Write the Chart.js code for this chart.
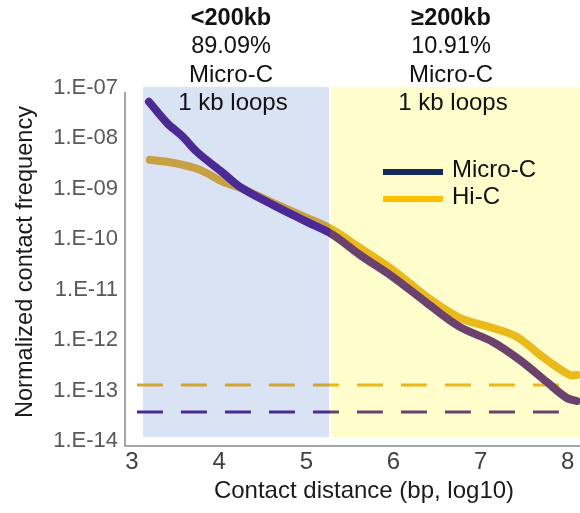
<!DOCTYPE html>
<html><head><meta charset="utf-8">
<script src="https://cdn.jsdelivr.net/npm/chart.js@4.4.1/dist/chart.umd.min.js"></script>
<style>html,body{margin:0;padding:0;background:#fff;}#wrap{width:580px;height:513px;position:relative;}</style>
</head><body><div id="wrap"><canvas id="c"></canvas></div>
<script>
// ---- data (x = contact distance, log10 bp; y = normalized contact frequency) ----
const distanceMicroC = [3.195, 3.401, 3.585, 3.745, 4.044, 4.239, 4.617, 5.007, 5.305, 5.615, 5.993, 6.383, 6.761, 7.140, 7.450, 7.759, 7.989, 8.103];
const freqMicroC     = [6.7e-8, 2.56e-8, 1.35e-8, 6.8e-9, 2.61e-9, 1.38e-9, 6.05e-10, 2.78e-10, 1.54e-10, 6.17e-11, 2.25e-11, 6.87e-12, 2.30e-12, 1.16e-12, 5.08e-13, 1.86e-13, 8.95e-14, 7.8e-14];
const distanceHiC    = [3.206, 3.470, 3.780, 4.044, 4.239, 4.617, 5.007, 5.305, 5.615, 5.993, 6.383, 6.761, 7.140, 7.415, 7.713, 8.023, 8.103];
const freqHiC        = [4.73e-9, 4.12e-9, 2.99e-9, 1.73e-9, 1.32e-9, 6.62e-10, 3.34e-10, 1.93e-10, 8.49e-11, 3.10e-11, 9.04e-12, 3.47e-12, 2.19e-12, 1.46e-12, 5.83e-13, 2.56e-13, 2.56e-13];
const thresholdX     = [3.057, 7.98];
const thresholdHiC   = 1.62e-13;
const thresholdMicroC = 4.7e-14;
const boundary       = 5.272;           // ~200 kb split
const regionStart    = [3.127, 5.285];
const regionEnd      = [5.262, 8.16];
const shadeTop = 1.32e-7, shadeBottom = 1.5e-14;
const xTicks = [3, 4, 5, 6, 7, 8];
const yTickValues = [1e-14, 1e-13, 1e-12, 1e-11, 1e-10, 1e-9, 1e-8, 1e-7];
const yTickLabels = ['1.E-14', '1.E-13', '1.E-12', '1.E-11', '1.E-10', '1.E-09', '1.E-08', '1.E-07'];
const regionTitles = ['<200kb', '≥200kb'];
const regionPercents = ['89.09%', '10.91%'];
const regionSub1 = ['Micro-C', 'Micro-C'];
const regionSub2 = ['1 kb loops', '1 kb loops'];
const seriesNames = ['Micro-C', 'Hi-C'];
const xTitle = 'Contact distance (bp, log10)';
const yTitle = 'Normalized contact frequency';

const FONT = '"Liberation Sans", Arial, Helvetica, sans-serif';
const regionFill = ['#dae3f3', '#fffdcc'];
const legendColors = ['#15295b', '#ffc000'];

function splitColor(left, right) {
  return (c) => {
    const chart = c.chart, area = chart.chartArea, xs = chart.scales && chart.scales.x;
    if (!area || !xs) return right;
    const px = xs.getPixelForValue(boundary);
    let f = (px - area.left) / (area.right - area.left);
    f = Math.min(1, Math.max(0, f));
    const g = chart.ctx.createLinearGradient(area.left, 0, area.right, 0);
    g.addColorStop(0, left); g.addColorStop(f, left);
    g.addColorStop(f, right); g.addColorStop(1, right);
    return g;
  };
}

const decor = {
  id: 'decor',
  beforeDatasetsDraw(chart) {
    const { ctx, scales: { x, y } } = chart;
    const top = y.getPixelForValue(shadeTop), bot = y.getPixelForValue(shadeBottom);
    ctx.save();
    regionStart.forEach((s, i) => {
      const l = x.getPixelForValue(s), r = x.getPixelForValue(regionEnd[i]);
      ctx.fillStyle = regionFill[i];
      ctx.fillRect(l, top, r - l, bot - top);
    });
    ctx.restore();
  },
  afterDraw(chart) {
    const { ctx, scales: { x } } = chart;
    ctx.save();
    // region annotations
    const centers = [4.136, 6.66];
    ctx.textAlign = 'center';
    ctx.textBaseline = 'alphabetic';
    ctx.fillStyle = '#111';
    centers.forEach((cx, i) => {
      const px = x.getPixelForValue(cx);
      ctx.font = `bold 23.5px ${FONT}`;
      ctx.fillText(regionTitles[i], px, 25);
      ctx.font = `23.5px ${FONT}`;
      ctx.fillText(regionPercents[i], px, 53);
      ctx.font = `24px ${FONT}`;
      ctx.fillText(regionSub1[i], px, 82);
      ctx.fillText(regionSub2[i], px + 2, 110);
    });
    // legend
    const ly = [172, 199];
    seriesNames.forEach((n, i) => {
      ctx.strokeStyle = legendColors[i];
      ctx.lineWidth = 6;
      ctx.lineCap = 'butt';
      ctx.beginPath(); ctx.moveTo(383, ly[i]); ctx.lineTo(443, ly[i]); ctx.stroke();
      ctx.fillStyle = '#111';
      ctx.font = `24px ${FONT}`;
      ctx.textAlign = 'left';
      ctx.textBaseline = 'middle';
      ctx.fillText(n, 452, ly[i] - 1.5);
    });
    // axis titles
    ctx.fillStyle = '#1a1a1a';
    ctx.font = `24px ${FONT}`;
    ctx.textAlign = 'center';
    ctx.textBaseline = 'alphabetic';
    ctx.fillText(xTitle, 364, 498);
    ctx.font = `23.6px ${FONT}`;
    ctx.translate(32, 262);
    ctx.rotate(-Math.PI / 2);
    ctx.fillText(yTitle, 0, 0);
    ctx.restore();
  }
};

const pts = (xs, ys) => xs.map((v, i) => ({ x: v, y: ys[i] }));

new Chart(document.getElementById('c'), {
  type: 'line',
  data: {
    datasets: [
      { label: 'Micro-C', data: pts(distanceMicroC, freqMicroC),
        borderColor: splitColor('#4b2a96', '#6b416e'), borderWidth: 8, tension: 0.35,
        borderCapStyle: 'round', borderJoinStyle: 'round', pointRadius: 0, fill: false, clip: false },
      { label: 'Hi-C', data: pts(distanceHiC, freqHiC),
        borderColor: splitColor('#c9a145', '#eab91c'), borderWidth: 8, tension: 0.35,
        borderCapStyle: 'round', borderJoinStyle: 'round', pointRadius: 0, fill: false, clip: false },
      { label: 'Hi-C threshold', data: pts(thresholdX, thresholdX.map(() => thresholdHiC)),
        borderColor: splitColor('#d0a535', '#e9b81d'), borderWidth: 3, borderDash: [26, 18],
        pointRadius: 0, fill: false },
      { label: 'Micro-C threshold', data: pts(thresholdX, thresholdX.map(() => thresholdMicroC)),
        borderColor: splitColor('#4b2a96', '#6b416e'), borderWidth: 3, borderDash: [26, 18],
        pointRadius: 0, fill: false }
    ]
  },
  options: {
    responsive: true, maintainAspectRatio: false, animation: false,
    layout: { padding: { top: 93, left: 0, right: 0, bottom: 0 } },
    plugins: { legend: { display: false }, tooltip: { enabled: false } },
    scales: {
      x: {
        type: 'linear', min: 2.92, max: 8.14,
        afterBuildTicks: s => { s.ticks = xTicks.map(v => ({ value: v })); },
        afterFit: s => { s.height = 67; },
        grid: { display: false, drawTicks: false },
        border: { display: true, color: '#a6a6a6', width: 2 },
        ticks: { padding: 2, color: '#404040', font: { family: FONT, size: 24 }, maxRotation: 0, autoSkip: false,
                 callback: v => String(v) }
      },
      y: {
        type: 'logarithmic', min: 1e-14, max: 1e-7,
        afterBuildTicks: s => { s.ticks = yTickValues.map(v => ({ value: v })); },
        afterFit: s => { s.width = 125; },
        grid: { display: false, drawTicks: false },
        border: { display: true, color: '#a6a6a6', width: 2 },
        ticks: { padding: 7, labelOffset: -5, color: '#595959', font: { family: FONT, size: 22 }, autoSkip: false,
                 callback: (v, i) => yTickLabels[i] }
      }
    }
  },
  plugins: [decor]
});
</script></body></html>
